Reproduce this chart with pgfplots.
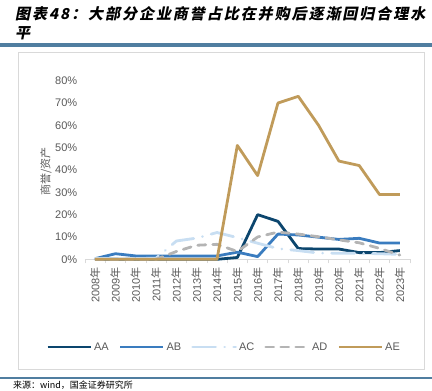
\documentclass[border=0pt]{standalone}
\usepackage{fontspec}
\usepackage{pgfplots}
\pgfplotsset{compat=1.18}
\setmainfont{Liberation Sans}
\newfontfamily\cjk{Noto Sans CJK SC}
\newfontfamily\titlefont{Noto Sans CJK SC}[FakeSlant=0.2, LetterSpace=13]
\definecolor{cAA}{RGB}{12,70,110}
\definecolor{cAB}{RGB}{58,124,191}
\definecolor{cAC}{RGB}{200,222,242}
\definecolor{cAD}{RGB}{180,180,180}
\definecolor{cAE}{RGB}{192,155,90}
\definecolor{labelgray}{RGB}{89,89,89}
\definecolor{rule}{RGB}{80,126,160}
\definecolor{frame}{RGB}{217,217,217}
\begin{document}
\begin{tikzpicture}[x=1pt,y=1pt]
\useasboundingbox (0,0) rectangle (432,391);
% title
\node[anchor=west, inner sep=0pt] at (15,377) {\titlefont\fontsize{15}{17}\selectfont\bfseries 图表48：大部分企业商誉占比在并购后逐渐回归合理水};
\node[anchor=west, inner sep=0pt] at (15,358) {\titlefont\fontsize{15}{17}\selectfont\bfseries 平};
\draw[rule, line width=3.5pt] (0,346) -- (432,346);
\draw[frame, line width=0.75pt] (18,22) rectangle (424,339);
\draw[rule, line width=2.5pt] (0,13) -- (432,13);
\node[anchor=base west, inner sep=0pt] at (13,2.2) {\cjk\fontsize{9}{10}\selectfont 来源：wind，国金证券研究所};
\begin{axis}[
  at={(85pt,131.7pt)}, anchor=south west,
  scale only axis, width=325pt, height=178.6pt,
  xmin=2007.5, xmax=2023.5, ymin=0, ymax=80,
  clip=false,
  axis x line=bottom, axis y line=left,
  x axis line style={-, draw=frame, line width=0.75pt},
  y axis line style={draw=none},
  xtick={2008,2009,2010,2011,2012,2013,2014,2015,2016,2017,2018,2019,2020,2021,2022,2023},
  xticklabels={2008{\cjk 年},2009{\cjk 年},2010{\cjk 年},2011{\cjk 年},2012{\cjk 年},2013{\cjk 年},2014{\cjk 年},2015{\cjk 年},2016{\cjk 年},2017{\cjk 年},2018{\cjk 年},2019{\cjk 年},2020{\cjk 年},2021{\cjk 年},2022{\cjk 年},2023{\cjk 年}},
  major x tick style={draw=none},
  minor xtick={2007.5,2008.5,2009.5,2010.5,2011.5,2012.5,2013.5,2014.5,2015.5,2016.5,2017.5,2018.5,2019.5,2020.5,2021.5,2022.5,2023.5},
  minor x tick style={draw=frame, line width=0.75pt},
  minor tick length=4pt,
  tick align=outside,
  ytick={0,10,20,30,40,50,60,70,80},
  yticklabels={0\%,10\%,20\%,30\%,40\%,50\%,60\%,70\%,80\%},
  ytick style={draw=none},
  tick label style={font=\fontsize{11}{13}\selectfont, text=labelgray},
  xticklabel style={rotate=90, anchor=east},
  ylabel={\cjk 商誉/资产},
  ylabel style={at={(-0.12,0.49)}, anchor=center, rotate=0, font=\fontsize{11}{13}\selectfont, text=labelgray},
  legend style={at={(0.428,-0.491)}, anchor=center, draw=none, fill=none,
    font=\fontsize{11}{13}\selectfont, text=labelgray,
    /tikz/every even column/.append style={column sep=8pt}},
  legend columns=5,
  legend image code/.code={\draw[#1] (0pt,0pt) -- (43pt,0pt);},
  every axis plot/.append style={line width=2.8pt, line join=round, mark=none},
]
\addplot[cAA] table {
x y
2008 0
2009 0
2010 0
2011 0
2012 0
2013 0
2014 0
2015 0.8
2016 20
2017 17
2018 4.8
2019 4.6
2020 4.6
2021 3
2022 3
2023 3.9
};
\addlegendentry{AA}
\addplot[cAB] table {
x y
2008 0.3
2009 2.5
2010 1.5
2011 1.5
2012 1.5
2013 1.5
2014 1.5
2015 3.2
2016 1.2
2017 11.3
2018 10.9
2019 9.9
2020 8.9
2021 9.4
2022 7.3
2023 7.3
};
\addlegendentry{AB}
\addplot[cAC, line cap=round, dash pattern=on 23pt off 9pt on 0.01pt off 9pt] table {
x y
2008 0.3
2009 0.3
2010 0.3
2011 0.5
2012 8.2
2013 9.5
2014 12
2015 9.7
2016 7.2
2017 4.8
2018 3.9
2019 2.8
2020 2.7
2021 2.7
2022 2.5
2023 2.2
};
\addlegendentry{AC}
\addplot[cAD, line cap=round, dash pattern=on 8pt off 7pt] table {
x y
2008 0
2009 0
2010 0
2011 0
2012 3.5
2013 6.3
2014 6.7
2015 3.5
2016 10
2017 12.2
2018 11.3
2019 10.1
2020 8.7
2021 7.4
2022 4.9
2023 1.9
};
\addlegendentry{AD}
\addplot[cAE] table {
x y
2008 0
2009 0
2010 0
2011 0
2012 0
2013 0
2014 0
2015 51
2016 37.5
2017 70
2018 73
2019 60
2020 44
2021 42
2022 29
2023 29
};
\addlegendentry{AE}
\end{axis}
\end{tikzpicture}
\end{document}
